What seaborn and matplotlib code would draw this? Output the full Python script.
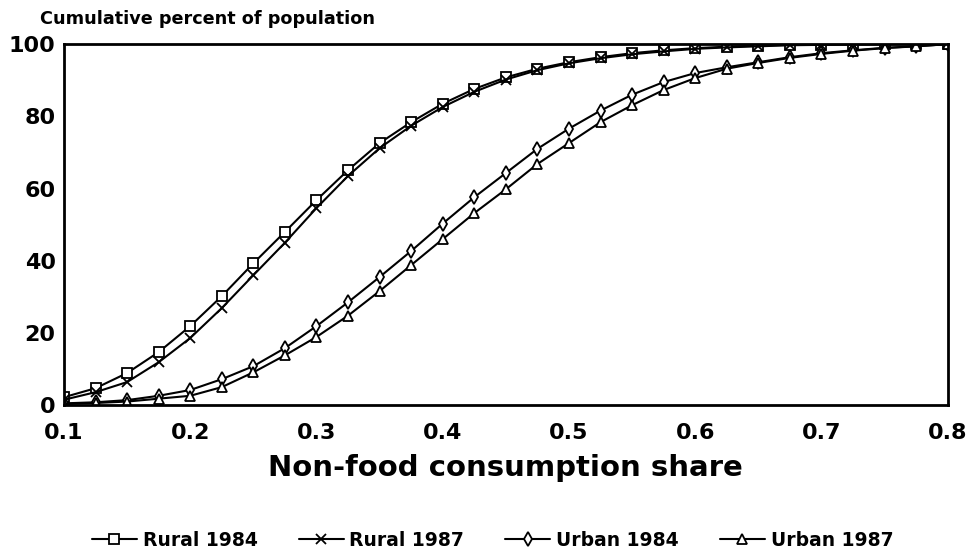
import numpy as np
import pandas as pd
import matplotlib
matplotlib.use('Agg')
import matplotlib.pyplot as plt
import seaborn as sns

# non-food share grid (x axis)
share = [0.1, 0.125, 0.15, 0.175, 0.2, 0.225, 0.25, 0.275, 0.3, 0.325,
         0.35, 0.375, 0.4, 0.425, 0.45, 0.475, 0.5, 0.525, 0.55, 0.575,
         0.6, 0.625, 0.65, 0.675, 0.7, 0.725, 0.75, 0.775, 0.8]

rural_1984 = [2.2, 4.7, 8.9, 14.7, 21.9, 30.2, 39.3, 48.0, 56.8, 65.1,
              72.6, 78.4, 83.5, 87.6, 90.8, 93.2, 95.0, 96.4, 97.5, 98.3,
              98.9, 99.3, 99.6, 99.8, 99.9, 100.0, 100.0, 100.0, 100.0]
rural_1987 = [1.5, 3.6, 6.4, 11.9, 18.6, 26.9, 36.0, 45.0, 54.6, 63.5,
              71.2, 77.4, 82.6, 86.8, 90.2, 92.8, 94.7, 96.1, 97.2, 98.0,
              98.7, 99.1, 99.4, 99.7, 99.8, 99.9, 100.0, 100.0, 100.0]
urban_1984 = [0.5, 0.8, 1.4, 2.6, 4.2, 7.2, 10.8, 15.8, 21.9, 28.5,
              35.5, 42.7, 50.3, 57.6, 64.3, 71.0, 76.6, 81.6, 86.0, 89.5,
              92.0, 93.6, 95.0, 96.4, 97.5, 98.3, 99.0, 99.4, 100.0]
urban_1987 = [0.3, 0.6, 1.0, 1.8, 2.6, 5.0, 9.1, 13.8, 18.9, 24.8,
              31.6, 38.8, 46.0, 53.2, 59.8, 66.8, 72.6, 78.4, 83.1, 87.3,
              90.6, 93.2, 94.8, 96.2, 97.3, 98.2, 98.9, 99.4, 100.0]

series = ['Rural 1984', 'Rural 1987', 'Urban 1984', 'Urban 1987']
values = [rural_1984, rural_1987, urban_1984, urban_1987]
markers = ['s', 'x', 'd', '^']

sns.set_theme(style='white')
plt.rcParams['font.family'] = ['DejaVu Sans']
plt.rcParams['text.color'] = 'black'
plt.rcParams['axes.labelcolor'] = 'black'

fig = plt.figure(figsize=(9.74, 5.52), dpi=100)
ax = fig.add_axes([0.0657, 0.266, 0.9073, 0.654])

for name, vals, mk in zip(series, values, markers):
    d = pd.DataFrame({'share': share, 'pct': vals})
    sns.lineplot(data=d, x='share', y='pct', marker=mk, color='black',
                 linewidth=1.5, markersize=7, markerfacecolor='white',
                 markeredgecolor='black', mew=1.3, label=name, ax=ax)

ax.set_xlim(0.1, 0.8)
ax.set_ylim(0, 100)
ax.set_xticks([0.1, 0.2, 0.3, 0.4, 0.5, 0.6, 0.7, 0.8])
ax.set_xticklabels(['0.1', '0.2', '0.3', '0.4', '0.5', '0.6', '0.7', '0.8'])
ax.set_yticks([0, 20, 40, 60, 80, 100])
ax.tick_params(axis='both', direction='in', length=7, width=1.5,
               labelsize=16, colors='black')
ax.tick_params(axis='y', pad=6)
ax.tick_params(axis='x', pad=13)
for lab in ax.get_xticklabels() + ax.get_yticklabels():
    lab.set_fontweight('bold')

for sp in ax.spines.values():
    sp.set_visible(True)
    sp.set_color('black')
    sp.set_linewidth(2)

ax.set_ylabel('')
ax.set_xlabel('Non-food consumption share', fontsize=21,
              fontweight='bold', labelpad=8)

fig.text(0.041, 0.965, 'Cumulative percent of population', fontsize=12.7,
         fontweight='bold', ha='left', va='center')

ax.legend(loc='center', bbox_to_anchor=(0.485, -0.374), ncol=4, frameon=False,
          columnspacing=2.2, handlelength=2.4, handletextpad=0.3,
          prop={'size': 13.5, 'weight': 'bold'})

fig.savefig('out.png', dpi=100)
